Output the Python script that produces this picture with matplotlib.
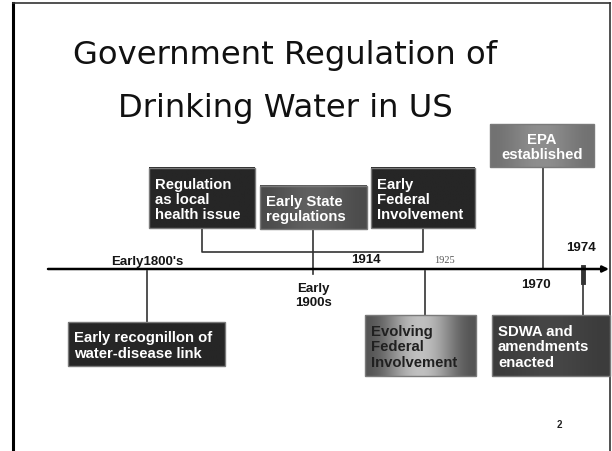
import matplotlib.pyplot as plt
import numpy as np
from matplotlib.colors import to_rgb
from matplotlib.patches import Rectangle

# slide content
title_lines = ['Government Regulation of', 'Drinking Water in US']
box_texts = ['Regulation\nas local\nhealth issue',
             'Early State\nregulations',
             'Early\nFederal\nInvolvement',
             'EPA\nestablished',
             'Early recognillon of\nwater-disease link',
             'Evolving\nFederal\nInvolvement',
             'SDWA and\namendments\nenacted']
year_labels = ["Early1800's", '1914', '1925', '1974', 'Early\n1900s', '1970']
page_no = '2'

# layout (pixel coords of the 612x452 slide)
box_xywh = [(149, 169, 106, 60), (260, 187, 107, 43), (371, 169, 104, 60),
            (490, 125, 104, 43), (68, 323, 157, 44), (365, 316, 111, 61),
            (492, 316, 118, 61)]
box_colors = [('#262626', '#262626'), ('#4c4c4c', '#606060'),
              ('#262626', '#262626'), ('#727272', '#8e8e8e'),
              ('#262626', '#262626'), ('#555555', '#c0c0c0'),
              ('#3c3c3c', '#464646')]
box_text_col = ['white', 'white', 'white', 'white', 'white', '#202020', 'white']
box_align = ['left', 'left', 'left', 'center', 'left', 'left', 'left']
year_xy = [(147, 262), (366, 260), (445, 261), (581, 248), (313, 296), (536, 285)]

TL_Y = 270

fig = plt.figure(figsize=(6.12, 4.52), dpi=100)
ax = fig.add_axes([0, 0, 1, 1])
ax.set_xlim(0, 612)
ax.set_ylim(452, 0)
ax.axis('off')

# slide frame
ax.plot([13, 13], [452, 4], color='black', lw=2.2)
ax.plot([13, 610], [4, 4], color='#333333', lw=1.2)
ax.plot([610, 610], [4, 452], color='#333333', lw=1.2)

# title
for txt, yb in zip(title_lines, [64, 117]):
    ax.text(285, yb, txt, ha='center', va='baseline',
            fontsize=23.2, family='DejaVu Sans', color='#111111')

# timeline with arrow
ax.annotate('', xy=(609, TL_Y), xytext=(48, TL_Y),
            arrowprops=dict(arrowstyle='-|>', color='black', lw=1.8,
                            mutation_scale=9, shrinkA=0, shrinkB=0))

# connectors
lc = '#333333'
ax.plot([202, 202, 423, 423], [229, 253, 253, 229], color=lc, lw=1.2)
ax.plot([313, 313], [230, 275], color=lc, lw=1.2)
ax.plot([147, 147], [272, 323], color=lc, lw=1.2)
ax.plot([425, 425], [272, 316], color=lc, lw=1.2)
ax.plot([543, 543], [168, 270], color=lc, lw=1.2)
ax.plot([583, 583], [268, 283], color='#333333', lw=3.5)
ax.plot([583, 583], [283, 316], color=lc, lw=1.2)

# boxes
for (x, y, w, h), (c0, c1), txt, tc, al in zip(box_xywh, box_colors, box_texts,
                                              box_text_col, box_align):
    g = np.sin(np.linspace(0, 1, 64) * np.pi) ** 2
    rgb0 = np.array(to_rgb(c0))
    rgb1 = np.array(to_rgb(c1))
    img = rgb0[None, None, :] + (rgb1 - rgb0)[None, None, :] * g[None, :, None]
    img = np.repeat(img, 2, axis=0)
    ax.imshow(img, extent=(x, x + w, y + h, y), aspect='auto', zorder=2,
              interpolation='bilinear')
    ax.add_patch(Rectangle((x, y), w, h, fill=False, ec='#7a7a7a', lw=1.0,
                           zorder=3))
    tx = x + w / 2 if al == 'center' else x + 6
    ax.text(tx, y + h / 2 + 1, txt, ha=al, va='center', ma=al, color=tc,
            fontsize=10.7, fontweight='bold', family='Liberation Sans',
            linespacing=1.1, zorder=4)

ax.set_xlim(0, 612)
ax.set_ylim(452, 0)

# year labels
for (x, y), lab in zip(year_xy, year_labels):
    if lab == '1925':
        ax.text(x, y, lab, ha='center', va='center', fontsize=7.5,
                family='Liberation Serif', color='#555555')
    else:
        ax.text(x, y, lab, ha='center', va='center', fontsize=9.5,
                fontweight='bold', family='Liberation Sans', color='#151515',
                linespacing=1.15)

ax.text(559, 425, page_no, ha='center', va='center', fontsize=7,
        fontweight='bold', family='Liberation Sans', color='#222222')

fig.savefig('out.png', dpi=100)
